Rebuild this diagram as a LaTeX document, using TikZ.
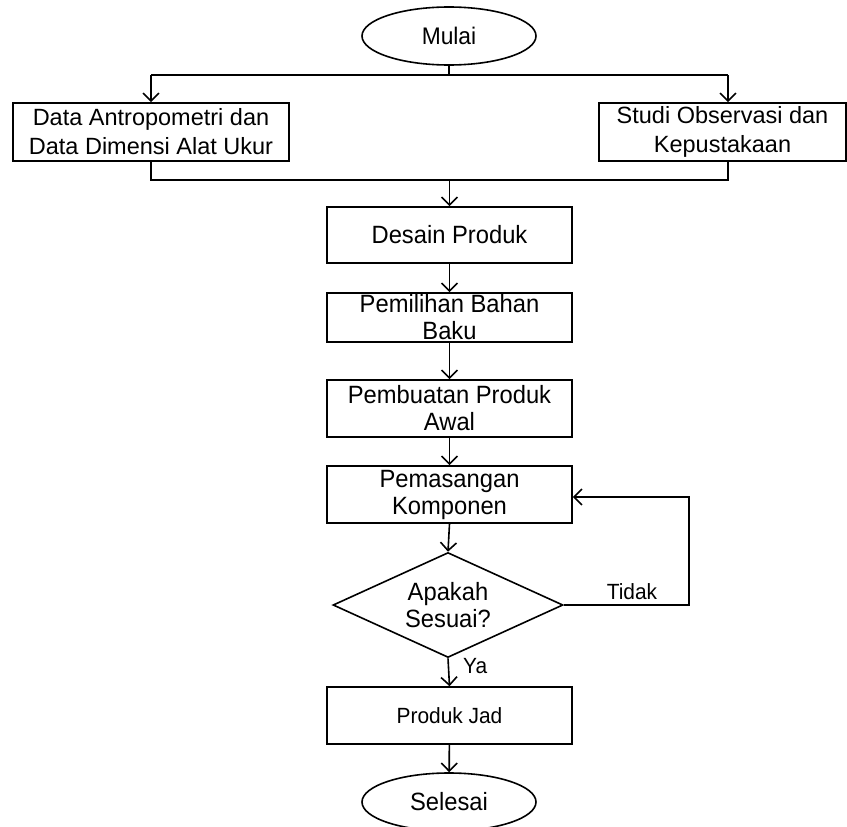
\documentclass[tikz,border=0pt]{standalone}
\usepackage{fontspec}
\setmainfont{Liberation Sans}
\newfontfamily\condfont[FakeStretch=0.95]{Liberation Sans}
\usetikzlibrary{shapes.geometric,arrows.meta}
\begin{document}
\begin{tikzpicture}[x=1pt,y=-1pt,
  every node/.style={inner sep=0pt, align=center},
  base/.style={draw, line width=1.6pt},
  boxnode/.style={base, rectangle, minimum width=245pt},
  termnode/.style={base, ellipse, minimum width=174pt, minimum height=58pt},
  big/.style={font=\condfont\fontsize{25}{27}\selectfont},
  top/.style={font=\fontsize{23.5}{29}\selectfont},
  small/.style={font=\condfont\fontsize{22}{26}\selectfont},
  conn/.style={line width=1.6pt},
  arr/.style={conn, -{Straight Barb[length=8pt,width=16pt,line width=1.6pt]}}
]
\useasboundingbox (0,0) rectangle (847,827);

\node[termnode, font=\condfont\fontsize{24}{28}\selectfont] (mulai) at (449,36) {Mulai};
\node[boxnode, top, minimum width=276pt, minimum height=58pt] (data) at (151,132) {Data Antropometri dan\\Data Dimensi Alat Ukur};
\node[boxnode, top, minimum width=247pt, minimum height=58pt] (studi) at (722.5,132) {Studi Observasi dan\\Kepustakaan};
\node[boxnode, big, minimum height=56pt] (desain) at (449.5,235) {Desain Produk};
\node[boxnode, big, minimum height=49pt] (pemilihan) at (449.5,317.5) {Pemilihan Bahan\\Baku};
\node[boxnode, big, minimum height=57pt] (pembuatan) at (449.5,408.5) {Pembuatan Produk\\Awal};
\node[boxnode, big, minimum height=57pt] (pemasangan) at (449.5,494.5) {Pemasangan\\Komponen};
\node[base, diamond, aspect=2.19, minimum width=230pt, minimum height=105pt, big] (sesuai) at (448,605) {Apakah\\Sesuai?};
\node[boxnode, small, minimum height=57pt] (jadi) at (449.5,715.5) {Produk Jad};
\node[termnode, big] (selesai) at (449,802) {Selesai};

\coordinate (bl) at (151,75);
\coordinate (br) at (728,75);
\coordinate (jl) at (151,180);
\coordinate (jr) at (728,180);
\coordinate (fb) at (689,497);

\draw[conn] (mulai.south) -- (mulai.south |- bl);
\draw[conn] (bl) -- (br);
\draw[arr] (bl) -- (bl |- data.north);
\draw[arr] (br) -- (br |- studi.north);
\draw[conn] (data.south) -- (jl) -- (jr) -- (jr |- studi.south);
\draw[arr] (desain.north |- jl) -- (desain.north);
\draw[arr] (desain) -- (pemilihan);
\draw[arr] (pemilihan) -- (pembuatan);
\draw[arr] (pembuatan) -- (pemasangan);
\draw[arr] (pemasangan.south) -- (sesuai.north);
\draw[arr] (sesuai.east) -| (fb) -- (fb -| pemasangan.east);
\node[small, anchor=south] (tidak) at (632,600) {Tidak};
\draw[arr] (sesuai.south) -- (jadi.north);
\node[small, anchor=west] (ya) at (463,666) {Ya};
\draw[arr] (jadi) -- (selesai);
\end{tikzpicture}
\end{document}
